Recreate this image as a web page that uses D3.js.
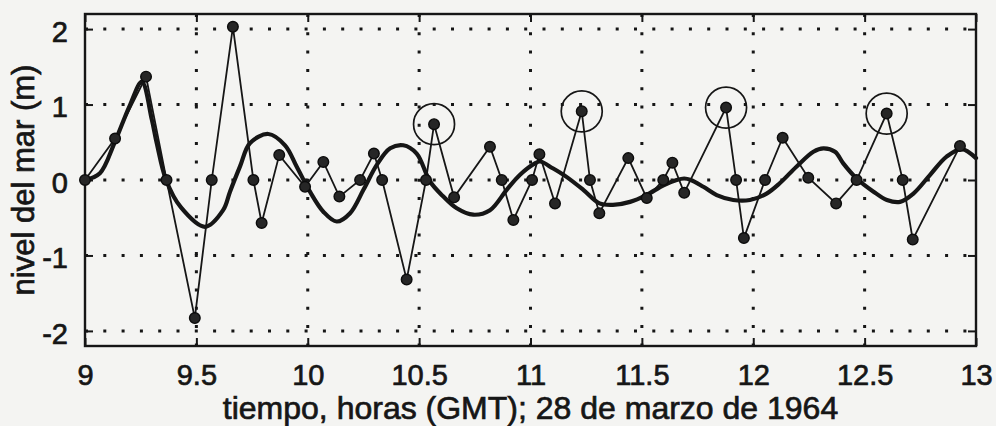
<!DOCTYPE html>
<html>
<head>
<meta charset="utf-8">
<script src="https://cdn.jsdelivr.net/npm/d3@7"></script>
<style>
  html, body { margin: 0; padding: 0; background: #f4f4f2; }
  svg { display: block; font-family: "Liberation Sans", Arial, Helvetica, sans-serif; }
  svg text { stroke: #161616; stroke-width: 0.7px; paint-order: fill; }
</style>
</head>
<body>
<svg id="chart" width="996" height="426"></svg>
<script>
// Sampled sea level (every marker), hours GMT, 28 March 1964
const sampleTime = [9.00, 9.135, 9.274, 9.366, 9.493, 9.569, 9.664, 9.756, 9.793, 9.872,
  9.988, 10.070, 10.142, 10.235, 10.297, 10.334, 10.444, 10.531, 10.567, 10.657,
  10.818, 10.871, 10.923, 11.007, 11.040, 11.110, 11.230, 11.267, 11.309, 11.439,
  11.522, 11.596, 11.637, 11.690, 11.878, 11.923, 11.958, 12.053, 12.132, 12.247,
  12.372, 12.464, 12.599, 12.671, 12.716, 12.928];
const sampleLevel = [0, 0.55, 1.37, 0, -1.83, 0, 2.03, 0, -0.57, 0.33,
  -0.09, 0.24, -0.22, 0, 0.35, 0, -1.32, 0, 0.74, -0.23,
  0.44, 0, -0.53, 0, 0.34, -0.31, 0.91, 0, -0.44, 0.29,
  -0.24, 0, 0.23, -0.17, 0.96, 0, -0.77, 0, 0.56, 0.03,
  -0.31, 0, 0.88, 0, -0.79, 0.45];

// Samples picked out with a ring
const ringedTime = [10.567, 11.230, 11.878, 12.599];

// Continuous (smoothed) sea level record
const curveTime = [9.00, 9.067, 9.132, 9.20, 9.255, 9.30, 9.322, 9.364, 9.43, 9.539,
  9.62, 9.651, 9.696, 9.741, 9.823, 9.898, 9.950, 10.01, 10.07, 10.13,
  10.19, 10.25, 10.31, 10.37, 10.429, 10.489, 10.549, 10.609, 10.669, 10.743,
  10.818, 10.893, 10.953, 11.02, 11.043, 11.10, 11.16, 11.237, 11.31, 11.37,
  11.447, 11.52, 11.597, 11.656, 11.69, 11.72, 11.776, 11.836, 11.91, 11.985,
  12.06, 12.12, 12.195, 12.27, 12.315, 12.367, 12.404, 12.464, 12.54, 12.60,
  12.659, 12.719, 12.793, 12.868, 12.936, 13.00];
const curveLevel = [0, 0.09, 0.49, 0.98, 1.30, 0.80, 0.49, 0, -0.36, -0.62,
  -0.40, -0.155, 0.18, 0.49, 0.61, 0.46, 0.18, -0.155, -0.42, -0.55,
  -0.44, -0.13, 0.20, 0.42, 0.46, 0.35, -0.02, -0.22, -0.375, -0.46,
  -0.40, -0.13, 0.07, 0.22, 0.245, 0.155, 0.045, -0.13, -0.31, -0.33,
  -0.29, -0.20, -0.07, 0.0, 0.02, 0.0, -0.09, -0.20, -0.265, -0.265,
  -0.18, -0.04, 0.18, 0.375, 0.42, 0.375, 0.22, 0.02, -0.155, -0.265,
  -0.29, -0.18, 0.065, 0.31, 0.41, 0.29];

const xTicks = [9, 9.5, 10, 10.5, 11, 11.5, 12, 12.5, 13];
const xTickLabels = ["9", "9.5", "10", "10.5", "11", "11.5", "12", "12.5", "13"];
const yTicks = [-2, -1, 0, 1, 2];
const yTickLabels = ["-2", "-1", "0", "1", "2"];

const ink = "#161616";
const svg = d3.select("#chart");
const plotLeft = 85, plotRight = 976, plotTop = 14, plotBottom = 346;

const x = d3.scaleLinear().domain([9, 13]).range([plotLeft, plotRight]);
const y = d3.scaleLinear().domain([-2.2, 2.2]).range([plotBottom, plotTop]);

// dotted grid
const grid = svg.append("g").attr("stroke", ink).attr("stroke-width", 3)
  .attr("stroke-dasharray", "3 15.3");
grid.selectAll("line.h").data(yTicks).join("line").attr("class", "h")
  .attr("x1", plotLeft).attr("x2", plotRight)
  .attr("y1", d => y(d)).attr("y2", d => y(d));
grid.selectAll("line.v").data(xTicks.slice(1, -1)).join("line").attr("class", "v")
  .attr("y1", plotTop).attr("y2", plotBottom)
  .attr("x1", d => x(d)).attr("x2", d => x(d));

// axes with inward ticks on all four sides
const tickLen = 8;
svg.append("g").attr("transform", `translate(0,${plotBottom})`)
  .call(d3.axisBottom(x).tickValues(xTicks).tickSize(-tickLen).tickPadding(18)
    .tickFormat((d, i) => xTickLabels[i]))
  .call(g => g.select(".domain").remove());
svg.append("g").attr("transform", `translate(0,${plotTop})`)
  .call(d3.axisTop(x).tickValues(xTicks).tickSize(-tickLen).tickFormat(""))
  .call(g => g.select(".domain").remove());
const yAxis = svg.append("g").attr("transform", `translate(${plotLeft},0)`)
  .call(d3.axisLeft(y).tickValues(yTicks).tickSize(-tickLen).tickPadding(17)
    .tickFormat((d, i) => yTickLabels[i]))
  .call(g => g.select(".domain").remove());
svg.append("g").attr("transform", `translate(${plotRight},0)`)
  .call(d3.axisRight(y).tickValues(yTicks).tickSize(-tickLen).tickFormat(""))
  .call(g => g.select(".domain").remove());

svg.selectAll(".tick line").attr("stroke", ink).attr("stroke-width", 2);
svg.selectAll(".tick text").attr("fill", ink).attr("font-size", 29)
  .attr("font-family", "Liberation Sans, Arial, sans-serif");
yAxis.selectAll(".tick text").attr("dy", "0.42em");

// frame
svg.append("rect").attr("x", plotLeft).attr("y", plotTop)
  .attr("width", plotRight - plotLeft).attr("height", plotBottom - plotTop)
  .attr("fill", "none").attr("stroke", ink).attr("stroke-width", 2.4);

// smoothed record
const smooth = d3.line().x((d, i) => x(curveTime[i])).y(d => y(d))
  .curve(d3.curveCatmullRom.alpha(0.5));
svg.append("path").attr("d", smooth(curveLevel))
  .attr("fill", "none").attr("stroke", ink).attr("stroke-width", 4.2)
  .attr("stroke-linejoin", "round").attr("stroke-linecap", "round");

// sampled series
const polyline = d3.line().x((d, i) => x(sampleTime[i])).y(d => y(d));
svg.append("path").attr("d", polyline(sampleLevel))
  .attr("fill", "none").attr("stroke", ink).attr("stroke-width", 1.8);

svg.append("g").selectAll("circle").data(sampleLevel).join("circle")
  .attr("cx", (d, i) => x(sampleTime[i])).attr("cy", d => y(d)).attr("r", 5.3)
  .attr("fill", "#262626").attr("stroke", "#0c0c0c").attr("stroke-width", 1.4);

// rings round the selected samples
svg.append("g").selectAll("circle").data(ringedTime).join("circle")
  .attr("cx", d => x(d))
  .attr("cy", d => y(sampleLevel[sampleTime.indexOf(d)]))
  .attr("r", 20.5).attr("fill", "none").attr("stroke", ink).attr("stroke-width", 1.7);

// axis titles
svg.append("text").attr("x", (plotLeft + plotRight) / 2).attr("y", 419)
  .attr("text-anchor", "middle").attr("font-size", 32).attr("fill", ink)
  .text("tiempo, horas (GMT); 28 de marzo de 1964");
svg.append("text").attr("transform", `translate(34,${(plotTop + plotBottom) / 2}) rotate(-90)`)
  .attr("text-anchor", "middle").attr("font-size", 31).attr("fill", ink)
  .text("nivel del mar (m)");
</script>
</body>
</html>
